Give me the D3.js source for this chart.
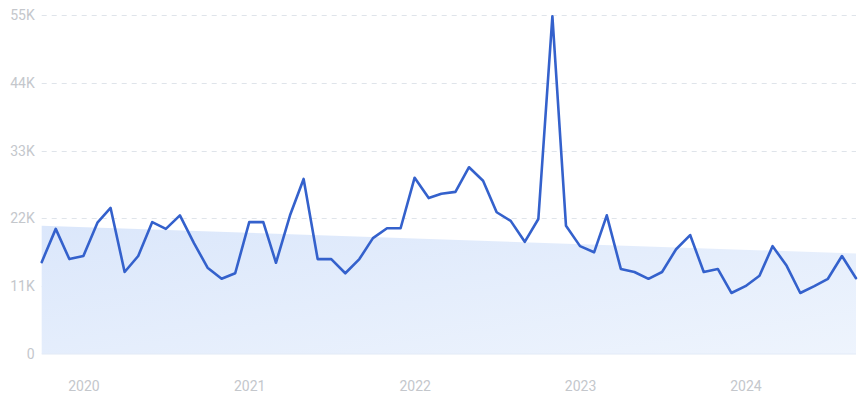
<!DOCTYPE html>
<html><head><meta charset="utf-8">
<script src="https://cdn.jsdelivr.net/npm/d3@7/dist/d3.min.js"></script>
<style>body{margin:0;background:#fff;}svg{display:block;}</style>
</head><body>
<svg id="c" width="865" height="400"></svg>
<script>
// Monthly values, Oct 2019 – Sep 2024 (thousands)
const startMonth = [2019, 9]; // year, monthIndex (Oct)
const values = [14.9,20.3,15.4,15.9,21.3,23.7,13.3,15.9,21.4,20.3,22.5,18.0,
  14.0,12.2,13.1,21.4,21.4,14.8,22.5,28.4,15.4,15.4,13.1,15.4,
  18.8,20.4,20.4,28.6,25.3,26.0,26.3,30.3,28.1,23.0,21.6,18.2,
  21.9,54.8,20.8,17.5,16.5,22.5,13.8,13.3,12.2,13.3,17.0,19.3,
  13.3,13.8,9.9,11.0,12.7,17.5,14.3,9.9,11.0,12.2,15.9,12.3];
const trend = [20.8, 16.3]; // shaded trend start/end (thousands)
const yTicks = [0, 11, 22, 33, 44, 55];
const yTickLabels = ["0", "11K", "22K", "33K", "44K", "55K"];
const xTickYears = [2020, 2021, 2022, 2023, 2024];

const dates = values.map((v, i) => new Date(startMonth[0], startMonth[1] + i, 1));
const svg = d3.select("#c");
const m = {left: 41.7, right: 856, top: 15, bottom: 354};

const x = d3.scaleTime().domain([dates[0], dates[dates.length - 1]]).range([m.left, m.right]);
const y = d3.scaleLinear().domain([0, 55]).range([m.bottom, m.top]);

const defs = svg.append("defs");
const g = defs.append("linearGradient").attr("id", "ag")
  .attr("x1", "0%").attr("y1", "0%").attr("x2", "100%").attr("y2", "100%");
g.append("stop").attr("offset", "0%").attr("stop-color", "#dbe7fb");
g.append("stop").attr("offset", "100%").attr("stop-color", "#eef4fd");

// gridlines
svg.append("g").selectAll("line").data(yTicks.slice(1)).join("line")
  .attr("x1", m.left).attr("x2", m.right)
  .attr("y1", d => Math.round(y(d)) + 0.5).attr("y2", d => Math.round(y(d)) + 0.5)
  .attr("stroke", "#dfe4ea").attr("stroke-width", 1).attr("stroke-dasharray", "5,5");

// trend area
const tdates = [dates[0], dates[dates.length - 1]];
const area = d3.area().x((d, i) => x(tdates[i])).y0(y(0)).y1(d => y(d));
svg.append("path").datum(trend).attr("d", area).attr("fill", "url(#ag)");
svg.append("line").attr("x1", m.left).attr("x2", m.right)
  .attr("y1", y(0)).attr("y2", y(0)).attr("stroke", "#e2eaf6").attr("stroke-width", 1);

// line
const line = d3.line().x((d, i) => x(dates[i])).y(d => y(d));
svg.append("path").datum(values).attr("d", line)
  .attr("fill", "none").attr("stroke", "#3461cc").attr("stroke-width", 2.6)
  .attr("stroke-linejoin", "round").attr("stroke-linecap", "round");

// y axis
const yAxis = d3.axisLeft(y).tickValues(yTicks).tickFormat((d, i) => yTickLabels[i]).tickSize(0).tickPadding(6);
const ya = svg.append("g").attr("transform", `translate(${m.left - 1},0)`).call(yAxis);
ya.select(".domain").remove();
ya.selectAll("text").attr("fill", "#c4c7cc").style("font-family", "Roboto, 'Noto Sans', sans-serif").style("font-size", "14px");

// x axis
const xAxis = d3.axisBottom(x).tickValues(xTickYears.map(yr => new Date(yr, 0, 1))).tickFormat(d3.timeFormat("%Y")).tickSize(0).tickPadding(0);
const xa = svg.append("g").attr("transform", `translate(0,${y(0) + 27})`).call(xAxis);
xa.select(".domain").remove();
xa.selectAll("text").attr("fill", "#c4c7cc").style("font-family", "Roboto, 'Noto Sans', sans-serif").style("font-size", "14px");
</script>
</body></html>
